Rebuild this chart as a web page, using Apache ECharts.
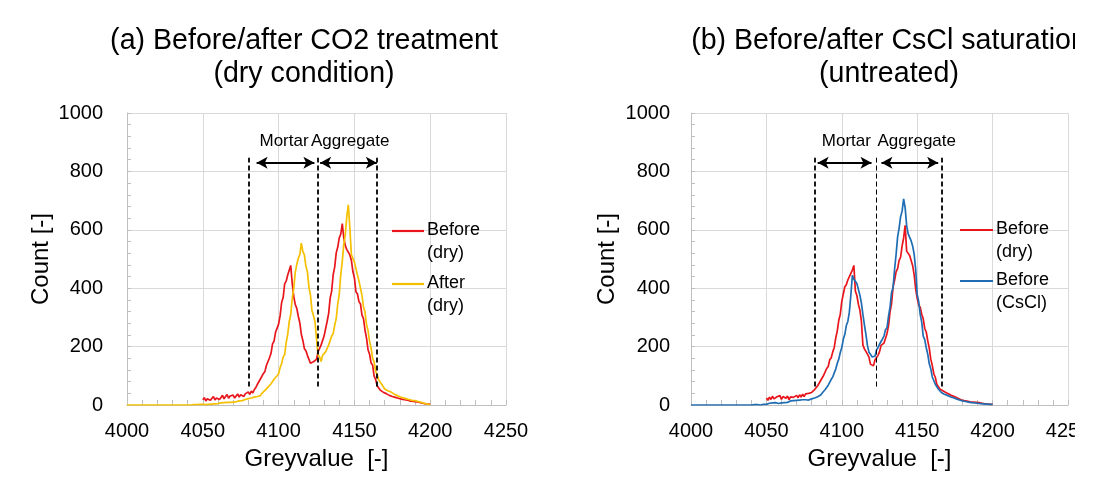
<!DOCTYPE html>
<html><head><meta charset="utf-8">
<script src="https://cdn.jsdelivr.net/npm/echarts@6/dist/echarts.min.js"></script>
<style>html,body{margin:0;padding:0;background:#fff}#c{width:1108px;height:491px}</style>
</head><body><div id="c"></div>
<script>
// ---------- DATA ----------
const titleA = "(a) Before/after CO2 treatment\n(dry condition)";
const titleB = "(b) Before/after CsCl saturation\n(untreated)";
const xTicks = [4000, 4050, 4100, 4150, 4200, 4250];
const yTicks = [0, 200, 400, 600, 800, 1000];
const xName = "Greyvalue  [-]";
const yName = "Count [-]";
const seriesNames = ["Before\n(dry)", "After\n(dry)", "Before\n(CsCl)"];

// (a) Before (dry), greyvalue 4050..4200
const aBeforeStart = 4050;
const aBefore = [
 18,25,14,21,27,16,22,29,17,24,
 30,19,26,33,21,29,36,23,31,25,
 34,24,31,38,27,35,41,29,38,42,
 45,36,48,41,53,60,71,74,89,93,
 108,115,136,142,162,177,209,219,249,255,
 277,306,351,368,415,424,445,451,478,416,
 372,344,331,304,281,242,221,193,186,170,
 171,143,146,148,150,156,182,186,205,208,
 236,241,286,313,366,390,446,472,521,540,
 572,585,621,572,546,532,530,514,496,457,
 436,388,381,354,346,308,296,256,229,189,
 174,144,137,99,88,66,68,51,54,44,
 49,39,43,33,37,29,33,26,29,23,
 26,20,23,18,20,17,19,13,17,12,
 14,11,12,9,10,6,9,4,6,3,
 2];
// (a) After (dry), greyvalue 4000..4200
const aAfterStart = 4000;
const aAfter = [
 0,0,0,0,0,0,0,0,0,0, 0,0,0,0,0,0,0,0,0,0,
 0,0,0,0,0,0,0,0,0,0, 0,0,0,0,0,0,0,0,0,0,
 0,1,0,1,1,0,1,1,2,1,
 2,4,1,5,2,6,3,7,4,7,
 5,8,7,9,8,10,9,12,9,13,
 10,14,11,15,14,18,15,19,19,22,
 22,24,24,28,27,29,29,31,32,40,
 40,50,50,61,61,73,75,88,90,100,
 107,128,142,164,173,214,242,285,310,365,
 400,455,481,503,515,554,525,514,475,456,
 404,377,324,306,285,228,172,165,149,170,
 167,182,180,205,200,236,245,273,296,346,
 378,446,492,550,584,646,686,606,515,510,
 490,491,445,425,400,375,335,319,275,255,
 218,195,160,148,115,105,86,90,71,68,
 55,58,49,54,45,47,38,40,33,34,
 28,31,25,27,22,24,19,21,16,18,
 15,16,12,13,9,10,6,7,3,4,
 2];
// (b) Before (dry), greyvalue 4050..4200
const bDryStart = 4050;
const bDry = [
 24,16,27,19,30,21,15,28,23,32,
 19,29,34,23,31,18,28,33,26,22,
 33,25,35,27,37,29,38,32,40,35,
 43,44,53,53,66,72,84,88,102,105,
 125,132,155,162,182,197,230,254,290,311,
 355,380,405,412,428,432,451,462,478,390,
 375,345,325,287,205,192,189,174,164,140,
 144,134,154,155,170,182,204,202,212,208,
 245,272,319,347,405,427,456,467,495,506,
 545,572,615,527,525,512,514,477,445,397,
 365,342,335,311,295,262,250,220,195,157,
 136,107,95,71,69,55,56,49,51,43,
 45,38,40,32,35,28,30,23,26,18,
 21,15,18,13,16,11,14,10,13,9,
 12,8,10,6,8,4,6,3,5,2,
 2];
// (b) Before (CsCl), greyvalue 4000..4200
const bCsClStart = 4000;
const bCsCl = [
 0,0,0,0,0,0,0,0,0,0, 0,0,0,0,0,0,0,0,0,0,
 0,0,0,0,0,0,0,0,0,0, 0,0,0,0,0,0,0,0,0,0,
 0,0,1,0,1,1,0,1,2,1,
 2,4,6,3,7,4,8,9,5,10,
 7,11,8,13,9,12,14,11,15,12,
 16,13,17,14,18,15,18,20,17,22,
 21,25,24,29,28,32,34,41,44,53,
 56,68,73,88,96,110,123,143,157,180,
 197,225,242,272,286,318,376,444,431,433,
 416,410,376,349,310,274,242,204,181,174,
 165,169,167,188,197,208,212,226,237,258,
 265,304,336,385,402,465,515,575,606,645,
 664,706,676,615,586,584,562,544,516,464,
 379,354,310,284,236,224,196,174,141,124,
 96,91,71,68,55,55,43,45,37,39,
 33,34,28,30,25,27,21,23,17,19,
 14,16,12,14,10,12,8,10,7,9,
 6,8,5,7,4,6,3,4,2,3,
 2];

// boundaries (greyvalue) and annotation labels
const aBounds = [4080, 4126, 4165];
const bBounds = [4082, 4123, 4166];
const aArrows = [[4085.5, 4123.6], [4127.4, 4164.8]];
const bArrows = [[4084, 4119.7], [4126.3, 4163.9]];
const regionLabels = ["Mortar", "Aggregate"];
const aLabelX = [4103.6, 4147.2];
const bLabelX = [4103, 4149.7];
const boundYRange = [63, 847];
const arrowY = 830;
const labelY = 903;

// ---------- CHART ----------
const FONT = "'Liberation Sans', Arial, sans-serif";
const RED = '#e8161c', YEL = '#f5c000', BLUE = '#1f6db3';
const pairs = (start, vals) => vals.map((v, i) => [start + i, v]);

function xAxis(gi) {
  return {
    type: 'value', gridIndex: gi, min: xTicks[0], max: xTicks[xTicks.length - 1], interval: 50,
    name: xName, nameLocation: 'middle', nameGap: 42,
    nameTextStyle: { fontFamily: FONT, fontSize: 24, color: '#000' },
    axisLine: { show: true, lineStyle: { color: '#bfbfbf', width: 1 } },
    axisTick: { show: true, inside: true, length: 5, lineStyle: { color: '#bfbfbf' } },
    minorTick: { show: true, splitNumber: 5, length: 5, lineStyle: { color: '#bfbfbf' } },
    axisLabel: { fontFamily: FONT, fontSize: 20, color: '#000', margin: 16, formatter: v => String(v) },
    splitLine: { show: true, lineStyle: { color: '#d9d9d9', width: 1 } }
  };
}
function yAxis(gi, margin, gap) {
  return {
    type: 'value', gridIndex: gi, min: yTicks[0], max: yTicks[yTicks.length - 1], interval: 200,
    name: yName, nameLocation: 'middle', nameGap: gap, nameRotate: 90,
    nameTextStyle: { fontFamily: FONT, fontSize: 24, color: '#000' },
    axisLine: { show: true, lineStyle: { color: '#bfbfbf', width: 1 } },
    axisTick: { show: true, inside: true, length: 4, lineStyle: { color: '#bfbfbf' } },
    minorTick: { show: true, splitNumber: 5, length: 4, lineStyle: { color: '#bfbfbf' } },
    axisLabel: { fontFamily: FONT, fontSize: 20, color: '#000', margin: margin, formatter: v => String(v) },
    splitLine: { show: true, lineStyle: { color: '#d9d9d9', width: 1 } }
  };
}
function annot(bounds, arrows, labelX, midThin) {
  const lines = bounds.map((b, i) => [
    { coord: [b, boundYRange[0]], symbol: 'none',
      lineStyle: { color: '#000', type: [5, 3], width: (midThin && i === 1) ? 1 : 1.8 } },
    { coord: [b, boundYRange[1]], symbol: 'none' }
  ]);
  const arr = arrows.map(a => [
    { coord: [a[0], arrowY], lineStyle: { color: '#000', type: 'solid', width: 2 } },
    { coord: [a[1], arrowY] }
  ]);
  return {
    markLine: {
      silent: true, animation: false, symbol: ['arrow', 'arrow'], symbolSize: [9, 11],
      label: { show: false }, emphasis: { disabled: true },
      data: lines.concat(arr)
    },
    markPoint: {
      silent: true, animation: false,
      data: regionLabels.map((t, i) => ({
        coord: [labelX[i], labelY], symbol: 'rect', symbolSize: 1,
        itemStyle: { color: 'rgba(0,0,0,0)' },
        label: { show: true, position: 'inside', formatter: t, fontFamily: FONT, fontSize: 17, color: '#000' }
      }))
    }
  };
}
function line(name, data, color, xi, extra) {
  return Object.assign({
    type: 'line', name: name, data: data, xAxisIndex: xi, yAxisIndex: xi,
    showSymbol: false, symbol: 'none', animation: false,
    lineStyle: { color: color, width: 1.7 }, itemStyle: { color: color }
  }, extra || {});
}

const chart = echarts.init(document.getElementById('c'), null, { renderer: 'canvas' });

function legendGraphics(x0, x1, ys, names, colors) {
  const g = [];
  names.forEach((n, i) => {
    g.push({ type: 'line', shape: { x1: x0, y1: ys[i], x2: x1, y2: ys[i] },
      style: { stroke: colors[i], lineWidth: 2.2 }, z: 100 });
    g.push({ type: 'text', x: x1 + 3, y: ys[i] - 12,
      style: { text: n, font: '18px ' + FONT, fill: '#000', lineHeight: 23, textVerticalAlign: 'top' }, z: 100 });
  });
  return g;
}

const graphics = []
  .concat(legendGraphics(392, 424, [231, 284], [seriesNames[0], seriesNames[1]], [RED, YEL]))
  .concat(legendGraphics(960, 993, [230, 281], [seriesNames[0], seriesNames[2]], [RED, BLUE]))
  .concat([{ type: 'rect', shape: { x: 1075, y: 0, width: 40, height: 491 },
             style: { fill: '#fff' }, z: 200 }]);

chart.setOption({
  backgroundColor: '#fff',
  animation: false,
  title: [
    { text: titleA, left: 299, top: 20, textAlign: 'center',
      textStyle: { fontFamily: FONT, fontSize: 28.6, fontWeight: 'normal', color: '#000', lineHeight: 33 } },
    { text: titleB, left: 884, top: 20, textAlign: 'center',
      textStyle: { fontFamily: FONT, fontSize: 28.6, fontWeight: 'normal', color: '#000', lineHeight: 33 } }
  ],
  grid: [
    { left: 127, right: 602, top: 113, bottom: 86 },
    { left: 691, right: 40, top: 113, bottom: 86 }
  ],
  xAxis: [xAxis(0), xAxis(1)],
  yAxis: [yAxis(0, 24, 74), yAxis(1, 21, 72)],
  series: [
    line(seriesNames[0], pairs(aBeforeStart, aBefore), RED, 0, annot(aBounds, aArrows, aLabelX, false)),
    line(seriesNames[1], pairs(aAfterStart, aAfter), YEL, 0),
    line(seriesNames[0], pairs(bDryStart, bDry), RED, 1, annot(bBounds, bArrows, bLabelX, true)),
    line(seriesNames[2], pairs(bCsClStart, bCsCl), BLUE, 1)
  ],
  graphic: graphics
});
</script></body></html>
